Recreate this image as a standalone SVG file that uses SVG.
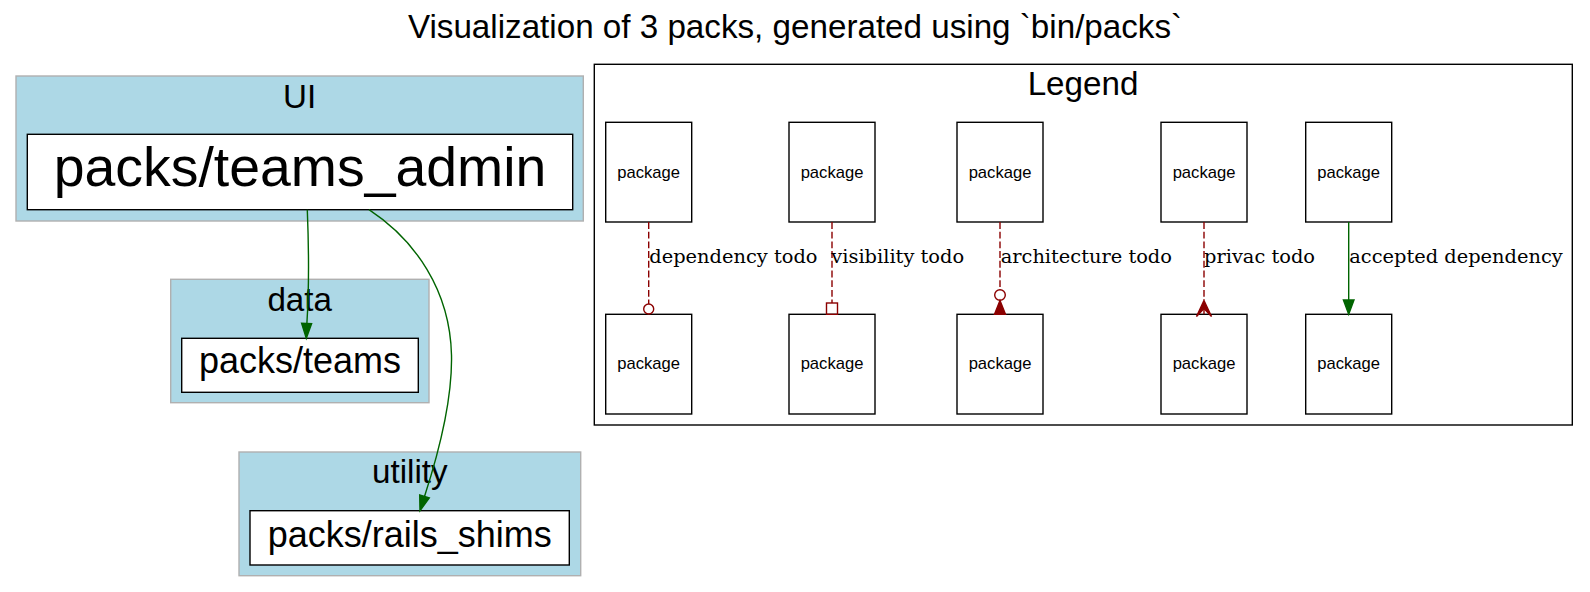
<svg xmlns="http://www.w3.org/2000/svg" width="1590" height="592" viewBox="0 0 1590 592">
<style>
  text { font-family: "Liberation Sans", Arial, sans-serif; fill: #000; }
  .cluster { fill: #add8e6; stroke: #b0b0b0; stroke-width: 1.4; }
  .node { fill: #fff; stroke: #000; stroke-width: 1.4; }
  .lnode { fill: #fff; stroke: #000; stroke-width: 1.4; }
  .ctitle { font-size: 33.2px; text-anchor: middle; }
  .pkg { font-size: 16.6px; text-anchor: middle; }
  .elabel { font-family: "DejaVu Serif", serif; font-size: 19.4px; }
  .green { fill: none; stroke: #006400; stroke-width: 1.4; }
  .red { fill: none; stroke: #8b0000; stroke-width: 1.4; stroke-dasharray: 6.9 2.8; }
  .redsolid { stroke: #8b0000; stroke-width: 1.4; }
</style>
<rect width="1590" height="592" fill="#fff"/>
<text x="795" y="37.7" class="ctitle">Visualization of 3 packs, generated using `bin/packs`</text>

<g id="cluster_UI">
  <rect class="cluster" x="16" y="76" width="567.3" height="145"/>
  <text x="299.7" y="108.3" class="ctitle">UI</text>
</g>
<g id="node_teams_admin">
  <rect class="node" x="27.3" y="134.3" width="545.4" height="75.4"/>
  <text x="300" y="186" style="font-size:55.4px;text-anchor:middle">packs/teams_admin</text>
</g>

<g id="cluster_data">
  <rect class="cluster" x="170.7" y="279.3" width="258.3" height="123.4"/>
  <text x="299.7" y="310.7" class="ctitle">data</text>
</g>
<g id="node_teams">
  <rect class="node" x="181.7" y="338.3" width="236.6" height="54"/>
  <text x="300" y="372.7" style="font-size:36px;text-anchor:middle">packs/teams</text>
</g>

<g id="cluster_utility">
  <rect class="cluster" x="239" y="452" width="341.7" height="123.7"/>
  <text x="409.8" y="483.3" class="ctitle">utility</text>
</g>
<g id="node_rails_shims">
  <rect class="node" x="250" y="510.7" width="319.3" height="54.3"/>
  <text x="409.7" y="546.7" style="font-size:36px;text-anchor:middle">packs/rails_shims</text>
</g>

<g id="cluster_legend">
  <rect x="594.3" y="64.3" width="978" height="360.7" fill="none" stroke="#000" stroke-width="1.4"/>
  <text x="1083" y="95" class="ctitle">Legend</text>
</g>

<g id="legend_nodes">
  <g id="l1a"><rect class="lnode" x="605.7" y="122.3" width="86" height="99.7"/><text x="648.7" y="177.7" class="pkg">package</text></g>
  <g id="l1b"><rect class="lnode" x="605.7" y="314.3" width="86" height="99.7"/><text x="648.7" y="369.3" class="pkg">package</text></g>
  <g id="l2a"><rect class="lnode" x="789" y="122.3" width="86" height="99.7"/><text x="832" y="177.7" class="pkg">package</text></g>
  <g id="l2b"><rect class="lnode" x="789" y="314.3" width="86" height="99.7"/><text x="832" y="369.3" class="pkg">package</text></g>
  <g id="l3a"><rect class="lnode" x="957" y="122.3" width="86" height="99.7"/><text x="1000" y="177.7" class="pkg">package</text></g>
  <g id="l3b"><rect class="lnode" x="957" y="314.3" width="86" height="99.7"/><text x="1000" y="369.3" class="pkg">package</text></g>
  <g id="l4a"><rect class="lnode" x="1161" y="122.3" width="86" height="99.7"/><text x="1204" y="177.7" class="pkg">package</text></g>
  <g id="l4b"><rect class="lnode" x="1161" y="314.3" width="86" height="99.7"/><text x="1204" y="369.3" class="pkg">package</text></g>
  <g id="l5a"><rect class="lnode" x="1305.7" y="122.3" width="86" height="99.7"/><text x="1348.7" y="177.7" class="pkg">package</text></g>
  <g id="l5b"><rect class="lnode" x="1305.7" y="314.3" width="86" height="99.7"/><text x="1348.7" y="369.3" class="pkg">package</text></g>
</g>

<g id="connectors">
  <!-- teams_admin -> teams -->
  <path class="green" d="M307.3,209.7 C308.5,240 309,290 306.9,323.3"/>
  <polygon points="306.3,338.3 301.6,323.2 311.6,323.6" fill="#006400" stroke="#006400" stroke-width="1.4"/>
  <!-- teams_admin -> rails_shims -->
  <path class="green" d="M369,209.7 C415,240 450,290 451.5,355 C452.5,400 438,455 424.5,496.5"/>
  <polygon points="420,510.7 419.7,495 429.3,498" fill="#006400" stroke="#006400" stroke-width="1.4"/>

  <!-- legend: dependency todo -->
  <path class="red" d="M648.7,222 L648.7,304"/>
  <circle cx="648.7" cy="309" r="5" fill="none" class="redsolid"/>
  <text x="649.3" y="263.3" class="elabel">dependency todo</text>
  <!-- visibility todo -->
  <path class="red" d="M832,222 L832,303"/>
  <rect x="826.5" y="303" width="11" height="11.3" fill="none" class="redsolid"/>
  <text x="831.3" y="263.3" class="elabel">visibility todo</text>
  <!-- architecture todo -->
  <path class="red" d="M1000,222 L1000,289.5"/>
  <circle cx="1000" cy="295" r="5.3" fill="none" class="redsolid"/>
  <polygon points="1000,300.5 1005.5,314.3 994.5,314.3" fill="#8b0000" class="redsolid"/>
  <text x="1000.7" y="263.3" class="elabel">architecture todo</text>
  <!-- privac todo -->
  <path class="red" d="M1204,222 L1204,300"/>
  <polygon points="1204,300.5 1211.5,316.5 1204,308.5 1196.5,316.5" fill="#8b0000" class="redsolid"/>
  <line x1="1204" y1="308" x2="1204" y2="314.3" class="redsolid"/>
  <text x="1204" y="263.3" class="elabel">privac todo</text>
  <!-- accepted dependency -->
  <path class="green" d="M1348.7,222 L1348.7,300"/>
  <polygon points="1348.7,314.3 1343.4,300 1354,300" fill="#006400" stroke="#006400" stroke-width="1.4"/>
  <text x="1349.3" y="263.3" class="elabel">accepted dependency</text>
</g>
</svg>
